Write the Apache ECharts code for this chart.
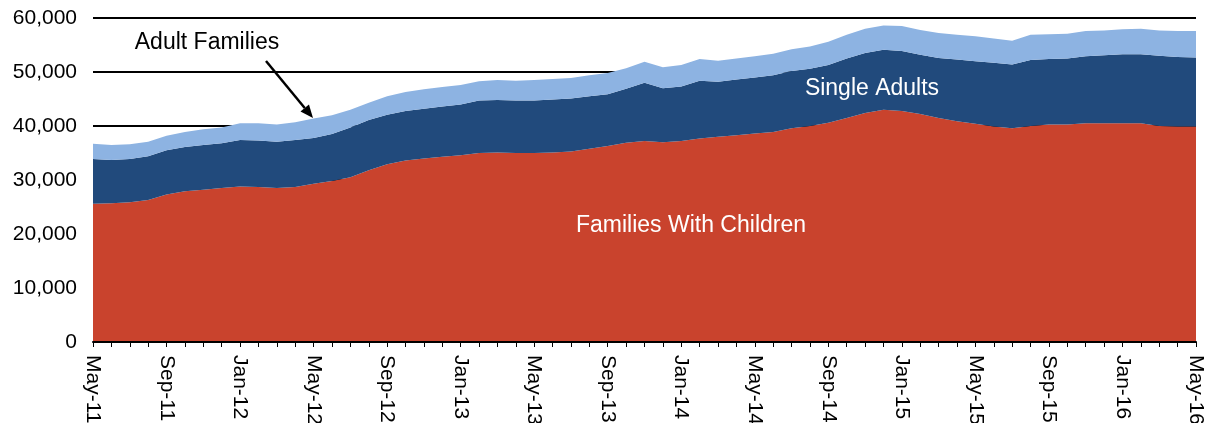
<!DOCTYPE html>
<html>
<head>
<meta charset="utf-8">
<script src="https://cdn.jsdelivr.net/npm/echarts@6/dist/echarts.min.js"></script>
<style>
html,body{margin:0;padding:0;background:#fff;}
#chart{width:1212px;height:423px;}
</style>
</head>
<body>
<div id="chart"></div>
<script>
const categories = (function(){
  const m = ['Jan','Feb','Mar','Apr','May','Jun','Jul','Aug','Sep','Oct','Nov','Dec'];
  const out = [];
  let mi = 4, y = 11;
  for (let i = 0; i < 61; i++) {
    out.push(m[mi] + '-' + y);
    mi++; if (mi === 12) { mi = 0; y++; }
  }
  return out;
})();

const familiesWithChildren = [25600,25700,25900,26300,27300,27900,28200,28500,28800,28700,
  28500,28700,29300,29800,30500,31800,32900,33600,34000,34300,
  34600,35000,35100,35000,35000,35100,35300,35800,36300,36900,
  37200,37000,37200,37700,38000,38300,38600,38900,39600,40000,
  40600,41500,42400,43000,42800,42200,41500,40900,40400,39900,
  39600,40000,40300,40300,40500,40500,40500,40500,40000,39900,39900];

const singleAdults = [8300,8000,8000,8100,8200,8200,8300,8300,8600,8600,
  8600,8700,8500,8700,9200,9300,9200,9200,9200,9300,
  9400,9700,9700,9700,9700,9800,9800,9700,9600,10000,
  10800,10000,10100,10700,10200,10300,10400,10500,10600,10600,
  10700,11000,11100,11100,11100,11000,11100,11400,11600,11800,
  11800,12200,12100,12200,12400,12600,12800,12800,13000,12900,12800];

const adultFamilies = [2800,2800,2700,2700,2700,2800,2900,2900,3100,3200,
  3200,3300,3600,3500,3300,3200,3400,3500,3600,3600,
  3600,3600,3700,3700,3800,3800,3800,3900,3900,3800,
  3900,3900,4000,4000,3900,3900,3900,4000,4000,4100,
  4300,4400,4500,4500,4600,4600,4600,4600,4600,4500,
  4400,4700,4600,4600,4700,4600,4600,4700,4700,4800,4900];

const yTicks = [0,10000,20000,30000,40000,50000,60000];

const FONT = 'Arial, "Liberation Sans", sans-serif';
const chart = echarts.init(document.getElementById('chart'));

function areaSeries(name, data, color) {
  return {
    name: name, type: 'line', stack: 'total', data: data,
    symbol: 'none', showSymbol: false, smooth: false,
    lineStyle: { width: 0, color: color },
    itemStyle: { color: color },
    areaStyle: { color: color, opacity: 1 },
    emphasis: { disabled: true },
    animation: false
  };
}

// arrow geometry
const ax0 = 266, ay0 = 61, ax1 = 313, ay1 = 118;
const dx = ax1 - ax0, dy = ay1 - ay0, len = Math.sqrt(dx*dx + dy*dy);
const ux = dx/len, uy = dy/len, px = -uy, py = ux;
const hl = 13, hw = 5.5;
const bx = ax1 - ux*hl, by = ay1 - uy*hl;

chart.setOption({
  animation: false,
  grid: { left: 93, right: 16, top: 18, bottom: 81, containLabel: false, outerBoundsMode: 'none' },
  xAxis: {
    type: 'category', data: categories, boundaryGap: false,
    axisLine: { show: true, lineStyle: { color: '#000', width: 2 } },
    axisTick: { show: true, interval: 0, length: 5, lineStyle: { color: '#000', width: 1 } },
    axisLabel: { interval: 3, rotate: -90, margin: 13, color: '#000', fontSize: 21, fontFamily: FONT },
    splitLine: { show: false }, z: 10
  },
  yAxis: {
    type: 'value', min: yTicks[0], max: yTicks[yTicks.length-1], interval: 10000,
    axisLine: { show: false }, axisTick: { show: false },
    axisLabel: { margin: 16, color: '#000', fontSize: 21, fontFamily: FONT,
      formatter: v => v.toLocaleString('en-US') },
    splitLine: { show: true, lineStyle: { color: '#000', width: 2 } }
  },
  series: [
    areaSeries('Families With Children', familiesWithChildren, '#C9432D'),
    areaSeries('Single Adults', singleAdults, '#214A7C'),
    areaSeries('Adult Families', adultFamilies, '#8DB3E2')
  ],
  graphic: [
    { type: 'text', style: { text: 'Families With Children', x: 691, y: 226, align: 'center', verticalAlign: 'middle', fill: '#fff', font: '23px ' + FONT }, z: 100 },
    { type: 'text', style: { text: 'Single Adults', x: 872, y: 89, align: 'center', verticalAlign: 'middle', fill: '#fff', font: '23px ' + FONT }, z: 100 },
    { type: 'text', style: { text: 'Adult Families', x: 207, y: 43, align: 'center', verticalAlign: 'middle', fill: '#000', font: '23px ' + FONT }, z: 100 },
    { type: 'line', shape: { x1: ax0, y1: ay0, x2: bx, y2: by }, style: { stroke: '#000', lineWidth: 2.5 }, z: 100 },
    { type: 'polygon', shape: { points: [[ax1, ay1], [bx + px*hw, by + py*hw], [bx - px*hw, by - py*hw]] }, style: { fill: '#000' }, z: 100 }
  ]
});
</script>
</body>
</html>
